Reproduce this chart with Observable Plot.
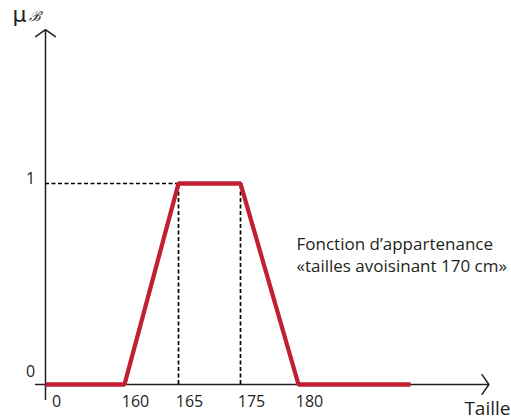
<!DOCTYPE html>
<html>
<head>
<meta charset="utf-8">
<script src="https://cdn.jsdelivr.net/npm/d3@7"></script>
<script src="https://cdn.jsdelivr.net/npm/@observablehq/plot@0.6"></script>
<style>
  html, body { margin: 0; padding: 0; background: #fff; }
  #chart svg { display: block; overflow: visible; }
</style>
</head>
<body>
<div id="chart"></div>
<script>
// Membership function "tailles avoisinant 170 cm"
const taille = [0, 160, 165, 175, 180, 190];
const mu = [0, 0, 1, 1, 0, 0];
const xTicks = [0, 160, 165, 175, 180];
const yTicks = [0, 1];
const plateau = [165, 175];
const annotation = ["Fonction d’appartenance\n«tailles avoisinant 170 cm»"];

const pts = taille.map((t, i) => ({t, m: mu[i]}));
const ink = "#231f20";
const red = "#c21f32";
const font = "Open Sans";

const chart = Plot.plot({
  width: 511,
  height: 419,
  margin: 0,
  style: {fontFamily: font, background: "#fff", overflow: "visible"},
  x: {type: "linear", domain: taille, range: [45, 124, 178, 240, 298, 410], axis: null},
  y: {type: "linear", domain: [0, 1], range: [384, 183], axis: null},
  marks: [
    // axes with arrowheads
    Plot.arrow([0], {x1: -20, x2: 197, y1: 0, y2: 0, stroke: ink, strokeWidth: 1.5, headAngle: 110, headLength: 12}),
    Plot.arrow([0], {x1: 0, x2: 0, y1: -0.075, y2: 1.765, stroke: ink, strokeWidth: 1.5, headAngle: 110, headLength: 12}),
    // dashed guides
    Plot.ruleY([1], {x1: 0, x2: plateau[0], stroke: "#000", strokeWidth: 1.7, strokeDasharray: "4,2.5"}),
    Plot.ruleX(plateau, {y1: 0, y2: 1, stroke: "#000", strokeWidth: 1.7, strokeDasharray: "4,2.5"}),
    // membership line
    Plot.line(pts, {x: "t", y: "m", stroke: red, strokeWidth: 4.3, strokeLinejoin: "miter", strokeLinecap: "butt"}),
    // tick labels
    Plot.text(xTicks, {x: d => d, y: 0, dy: 17, dx: 11, text: d => String(d), fontSize: 16, fill: ink, textAnchor: "middle"}),
    Plot.text(yTicks.filter(d => d === 1), {x: 0, y: d => d, dx: -15, dy: -5, text: d => String(d), fontSize: 16, fill: ink, textAnchor: "middle"}),
    Plot.text(yTicks.filter(d => d === 0), {x: 0, y: d => d, dx: -15, dy: -13, text: d => String(d), fontSize: 16, fill: ink, textAnchor: "middle"}),
    // annotation
    Plot.text(annotation, {x: 180, y: 0.746, dx: -2, text: d => d, fontSize: 17, lineHeight: 1.3, fill: ink, textAnchor: "start", lineAnchor: "top"}),
    // axis titles
    Plot.text(["Taille"], {frameAnchor: "bottom-right", dx: -1, dy: -5, text: d => d, fontSize: 19, fill: ink, textAnchor: "end", lineAnchor: "bottom"}),
    Plot.text(["μ"], {frameAnchor: "top-left", dx: 12, dy: 21, text: d => d, fontSize: 22, fontFamily: "DejaVu Sans", fill: ink, textAnchor: "start", lineAnchor: "bottom"}),
    Plot.text(["ℬ"], {frameAnchor: "top-left", dx: 28, dy: 20, text: d => d, fontSize: 14, fontStyle: "italic", fontFamily: "DejaVu Serif", fill: ink, textAnchor: "start", lineAnchor: "bottom"})
  ]
});
document.getElementById("chart").appendChild(chart);
</script>
</body>
</html>
